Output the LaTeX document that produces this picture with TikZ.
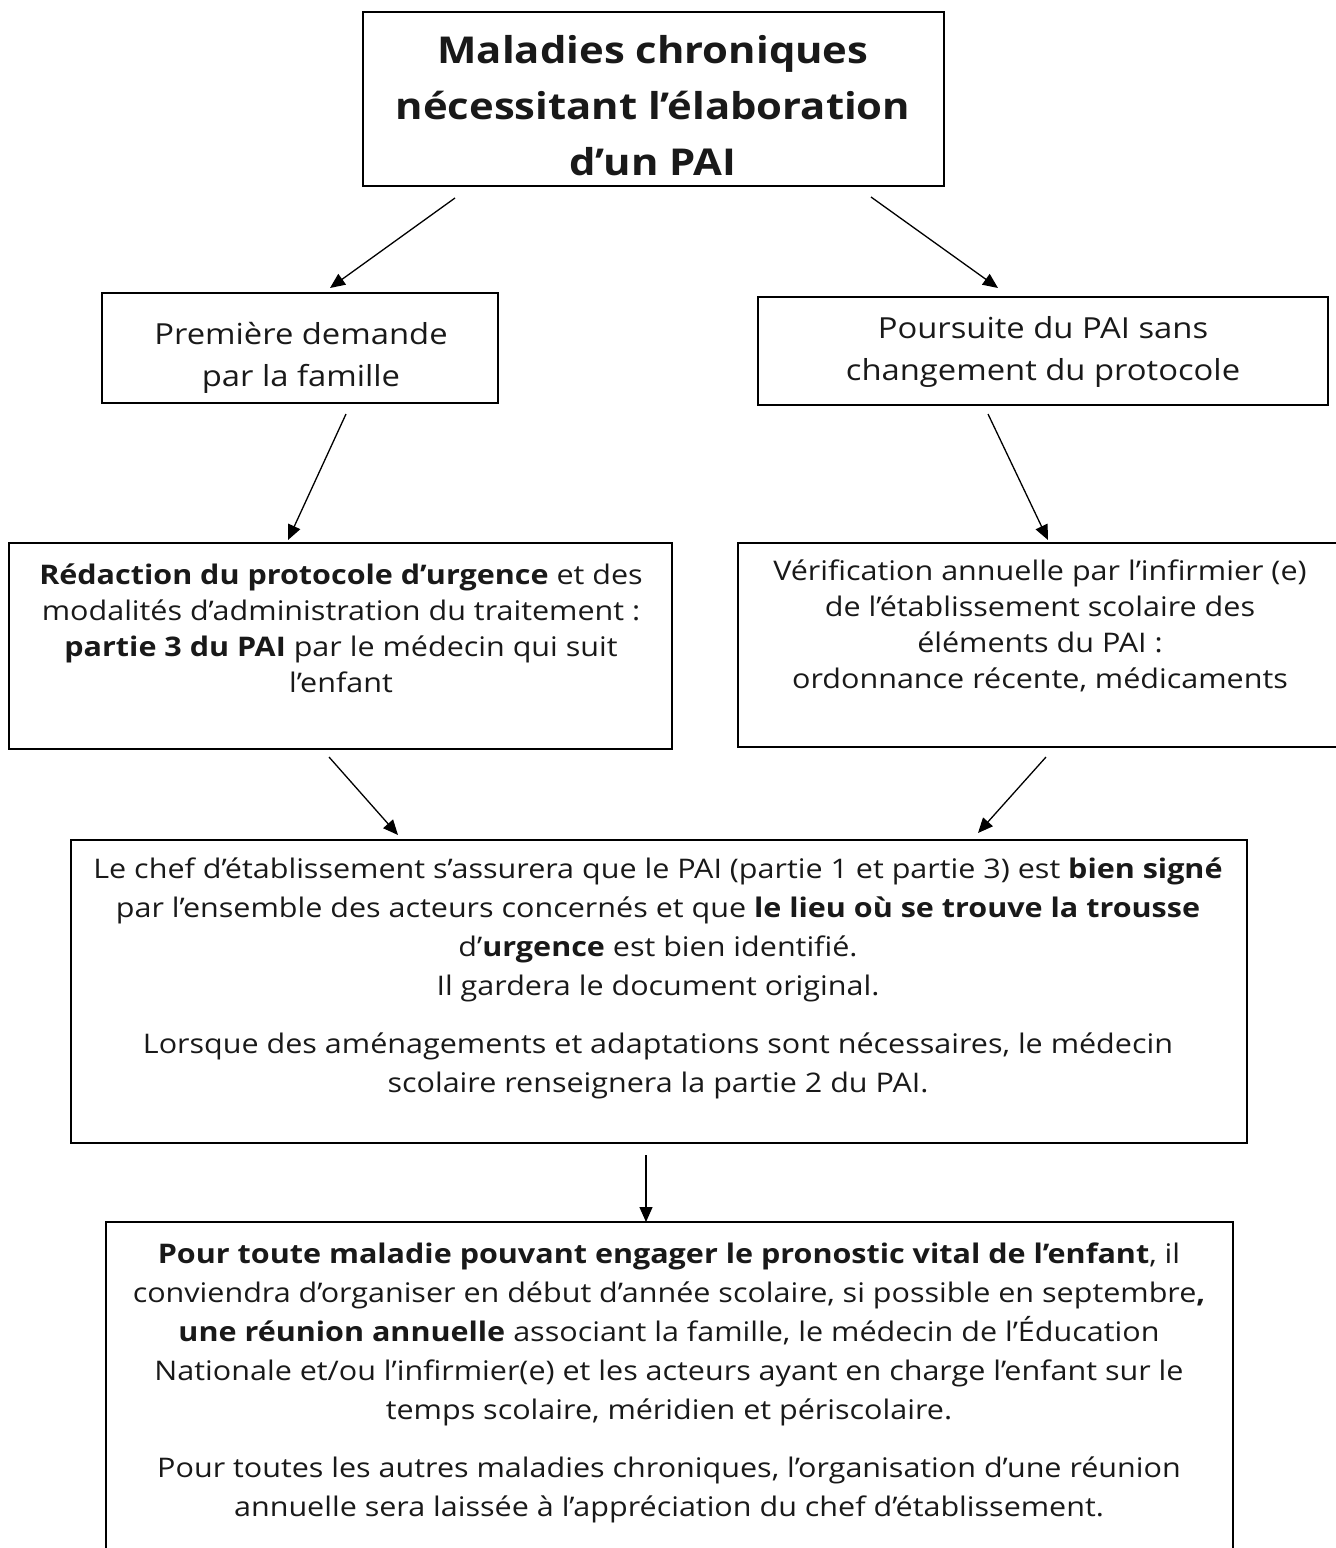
\documentclass[tikz,border=0pt]{standalone}
\usepackage{fontspec}
\setmainfont[FakeStretch=1.13,Ligatures=NoCommon]{Open Sans}
\usetikzlibrary{arrows.meta}
\tikzset{
  boxnode/.style={draw, line width=1.6pt, inner sep=0pt},
  txt/.style={align=center, inner sep=0pt, text=black!90},
  arr/.style={line width=1.3pt, -{Triangle[length=15pt,width=13pt]}},
}
\begin{document}
\begin{tikzpicture}[x=1pt,y=-1pt]
\useasboundingbox (0,0) rectangle (1336,1548);
% boxes
\node[boxnode, minimum width=581pt, minimum height=174pt] (top) at (653.5,99) {};
\node[boxnode, minimum width=396pt, minimum height=110pt] (l1) at (300,348) {};
\node[boxnode, minimum width=570pt, minimum height=108pt] (r1) at (1043,351) {};
\node[boxnode, minimum width=663pt, minimum height=206pt] (l2) at (340.5,646) {};
\node[boxnode, minimum width=606pt, minimum height=204pt] (r2) at (1041,645) {};
\node[boxnode, minimum width=1176pt, minimum height=303pt] (mid) at (659,991.5) {};
\node[boxnode, minimum width=1127pt, minimum height=400pt] (bot) at (669.5,1422) {};
% texts
\node[txt, font=\fontsize{37}{56}\selectfont\bfseries] (ttop) at (653,106)
  {Maladies chroniques\\nécessitant l’élaboration\\d’un PAI};
\node[txt, font=\fontsize{29}{42}\selectfont] (tl1) at (301,358)
  {Première demande\\par la famille};
\node[txt, font=\fontsize{29}{42}\selectfont] (tr1) at (1043,352)
  {Poursuite du PAI sans\\changement du protocole};
\node[txt, font=\fontsize{27}{36}\selectfont] (tl2) at (341,628)
  {\textbf{Rédaction du protocole d’urgence} et des\\modalités d’administration du traitement :\\\textbf{partie 3 du PAI} par le médecin qui suit\\l’enfant};
\node[txt, font=\fontsize{27}{36}\selectfont] (tr2) at (1040,626)
  {Vérification annuelle par l’infirmier (e)\\de l’établissement scolaire des\\éléments du PAI :\\ordonnance récente, médicaments};
\node[txt, font=\fontsize{27}{39}\selectfont] (tmid) at (658,978)
  {Le chef d’établissement s’assurera que le PAI (partie 1 et partie 3) est \textbf{bien signé}\\par l’ensemble des acteurs concernés et que \textbf{le lieu où se trouve la trousse}\\d’\textbf{urgence} est bien identifié.\\Il gardera le document original.\\[19pt]Lorsque des aménagements et adaptations sont nécessaires, le médecin\\scolaire renseignera la partie 2 du PAI.};
\node[txt, font=\fontsize{27}{39}\selectfont] (tbot) at (669,1383)
  {\textbf{Pour toute maladie pouvant engager le pronostic vital de l’enfant}, il\\conviendra d’organiser en début d’année scolaire, si possible en septembre\textbf{,}\\\textbf{une réunion annuelle} associant la famille, le médecin de l’Éducation\\Nationale et/ou l’infirmier(e) et les acteurs ayant en charge l’enfant sur le\\temps scolaire, méridien et périscolaire.\\[19pt]Pour toutes les autres maladies chroniques, l’organisation d’une réunion\\annuelle sera laissée à l’appréciation du chef d’établissement.};
% arrow end points
\coordinate (a1s) at (455,198); \coordinate (a1e) at (330,288);
\coordinate (a2s) at (871,197); \coordinate (a2e) at (998,288);
\coordinate (a3s) at (346,414); \coordinate (a3e) at (288,540);
\coordinate (a4s) at (988,414); \coordinate (a4e) at (1048,540);
\coordinate (a5s) at (329,757); \coordinate (a5e) at (398,835);
\coordinate (a6s) at (1046,757); \coordinate (a6e) at (978,833);
\coordinate (a7s) at (646,1155); \coordinate (a7e) at (646,1222);
\draw[arr] (a1s) -- (a1e);
\draw[arr] (a2s) -- (a2e);
\draw[arr] (a3s) -- (a3e);
\draw[arr] (a4s) -- (a4e);
\draw[arr] (a5s) -- (a5e);
\draw[arr] (a6s) -- (a6e);
\draw[arr] (a7s) -- (a7e);
\end{tikzpicture}
\end{document}
